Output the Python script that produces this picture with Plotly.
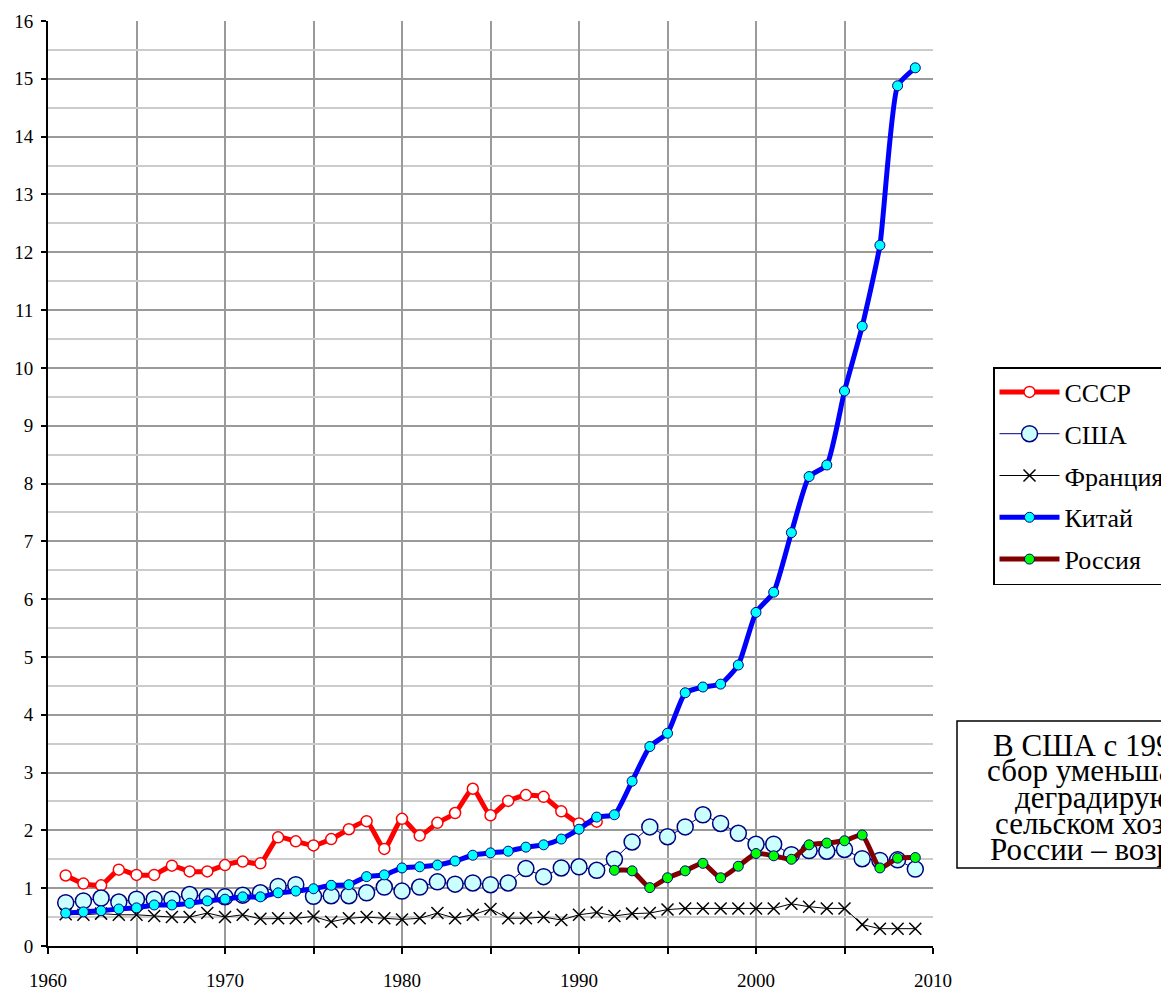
import plotly.graph_objects as go

# ---------------- data ----------------
years_ussr = list(range(1961, 1992))
ussr = [1.22, 1.08, 1.05, 1.32, 1.23, 1.23, 1.39, 1.29, 1.29, 1.40, 1.46, 1.43,
        1.88, 1.81, 1.74, 1.85, 2.02, 2.16, 1.68, 2.20, 1.91, 2.13, 2.30, 2.72,
        2.26, 2.51, 2.61, 2.58, 2.33, 2.12, 2.15]

years_all = list(range(1961, 2010))
usa = [0.75, 0.78, 0.83, 0.76, 0.81, 0.81, 0.81, 0.89, 0.85, 0.85, 0.88, 0.92, 1.03, 1.06,
       0.86, 0.87, 0.87, 0.92, 1.02, 0.95, 1.02, 1.11, 1.07, 1.09, 1.06, 1.09, 1.34, 1.20,
       1.35, 1.37, 1.31,
       1.50, 1.80, 2.06, 1.89, 2.06, 2.27, 2.12, 1.95, 1.76, 1.76, 1.58, 1.65, 1.64, 1.67,
       1.51, 1.48, 1.49, 1.33]
france = [0.55, 0.54, 0.56, 0.54, 0.54, 0.52, 0.50, 0.50, 0.57, 0.50, 0.54, 0.47, 0.48, 0.48,
          0.51, 0.42, 0.48, 0.50, 0.48, 0.46, 0.48, 0.57, 0.48, 0.54, 0.64, 0.48, 0.48, 0.50,
          0.45, 0.54, 0.58,
          0.52, 0.56, 0.57, 0.63, 0.65, 0.65, 0.65, 0.65, 0.65, 0.65, 0.73, 0.68, 0.65, 0.65,
          0.37, 0.30, 0.30, 0.30]
china = [0.57, 0.59, 0.61, 0.64, 0.66, 0.71, 0.71, 0.74, 0.78, 0.81, 0.85, 0.85, 0.92, 0.95,
         0.99, 1.05, 1.06, 1.20, 1.23, 1.35, 1.37, 1.40, 1.47, 1.57, 1.61, 1.64, 1.71, 1.75,
         1.85, 2.02, 2.23,
         2.27, 2.85, 3.45, 3.68, 4.38, 4.48, 4.53, 4.86, 5.77, 6.12, 7.15, 8.12, 8.32, 9.60,
         10.72, 12.12, 14.88, 15.19]

years_russia = list(range(1992, 2010))
russia = [1.31, 1.30, 1.01, 1.18, 1.30, 1.43, 1.18, 1.38, 1.60, 1.56, 1.50, 1.75, 1.78,
          1.82, 1.92, 1.35, 1.52, 1.53]

x_tick_labels = [1960, 1970, 1980, 1990, 2000, 2010]
y_tick_labels = list(range(0, 17))

note_lines = ["В США с 1997 года", "сбор уменьшается, в", "деградирующем",
              "сельском хозяйстве", "России – возрастает"]

# ---------------- figure ----------------
FONT = "Liberation Serif"
NAVY = "#000080"

fig = go.Figure()

fig.add_trace(go.Scatter(
    x=years_ussr, y=ussr, name="СССР", legendgroup="a", mode="lines+markers",
    line=dict(color="#ff0000", width=5, shape="spline", smoothing=0.5),
    marker=dict(symbol="circle", size=11, color="white", line=dict(color="#ff0000", width=1.5))))

fig.add_trace(go.Scatter(
    x=years_all, y=usa, name="США", legendgroup="b", mode="lines+markers",
    line=dict(color=NAVY, width=1),
    marker=dict(symbol="circle", size=16, color="#ccffff", line=dict(color=NAVY, width=1.5))))

fig.add_trace(go.Scatter(
    x=years_all, y=france, name="Франция", legendgroup="c", mode="lines+markers",
    line=dict(color="black", width=1),
    marker=dict(symbol="x-thin", size=12, color="black", line=dict(color="black", width=1.5))))

fig.add_trace(go.Scatter(
    x=years_all, y=china, name="Китай", legendgroup="d", mode="lines+markers",
    line=dict(color="#0000ff", width=5, shape="spline", smoothing=0.5),
    marker=dict(symbol="circle", size=10, color="#00ffff", line=dict(color=NAVY, width=1))))

fig.add_trace(go.Scatter(
    x=years_russia, y=russia, name="Россия", legendgroup="e", mode="lines+markers",
    line=dict(color="#800000", width=5, shape="spline", smoothing=0.5),
    marker=dict(symbol="circle", size=10, color="#00ff00", line=dict(color=NAVY, width=1))))

# the page body adds an 8 px offset, so the figure is drawn 8 px smaller
fig.update_layout(
    width=1161, height=982,
    margin=dict(l=40, r=236, t=13, b=44, autoexpand=False),
    plot_bgcolor="white", paper_bgcolor="white",
    font=dict(family=FONT, color="black", size=19),
    showlegend=True,
    legend=dict(
        x=(993 - 48) / 885, y=(946 - 367) / 925, xanchor="left", yanchor="top",
        bgcolor="white", bordercolor="black", borderwidth=1.5,
        font=dict(family=FONT, size=26, color="black"),
        traceorder="grouped", tracegroupgap=5, itemwidth=60,
    ),
    xaxis=dict(
        range=[1960, 2010], tickmode="array", tickvals=x_tick_labels,
        ticktext=[str(v) for v in x_tick_labels],
        showgrid=True, gridcolor="#9a9a9a", gridwidth=1.5,
        ticks="outside", ticklen=6, tickwidth=1.5, tickcolor="black",
        showline=True, linecolor="black", linewidth=2,
        zeroline=False, ticklabelstandoff=10,
        tickfont=dict(family=FONT, size=19),
        minor=dict(dtick=5, tick0=1960, ticks="outside", ticklen=6, tickwidth=1.5,
                   tickcolor="black", showgrid=True, gridcolor="#9a9a9a", gridwidth=1.5),
    ),
    yaxis=dict(
        range=[0, 16], tickmode="array", tickvals=y_tick_labels,
        showgrid=True, gridcolor="#9a9a9a", gridwidth=1.5,
        ticks="outside", ticklen=5, tickwidth=1.5, tickcolor="black",
        showline=True, linecolor="black", linewidth=2,
        zeroline=False, ticklabelstandoff=4,
        tickfont=dict(family=FONT, size=19),
        minor=dict(dtick=0.5, tick0=0, showgrid=True, gridcolor="#cccccc", gridwidth=1.5),
    ),
)

# note box (positions given in screen pixels of the plot area)
box_left, box_top, box_bottom, box_center = 957, 721, 868, 1122
def px_x(p):
    return (p - 48) / 885
def px_y(p):
    return (946 - p) / 925

fig.add_shape(type="rect", xref="paper", yref="paper",
              x0=px_x(box_left), x1=px_x(2 * box_center - box_left),
              y0=px_y(box_bottom), y1=px_y(box_top),
              line=dict(color="black", width=1.5), fillcolor="white", layer="above")

line_y = [745, 771, 797, 823, 849]
for txt, yy in zip(note_lines, line_y):
    fig.add_annotation(xref="paper", yref="paper", x=px_x(box_center), y=px_y(yy),
                       text=txt, showarrow=False, xanchor="center", yanchor="middle",
                       font=dict(family=FONT, size=31, color="black"))

fig.write_html("out.html")
